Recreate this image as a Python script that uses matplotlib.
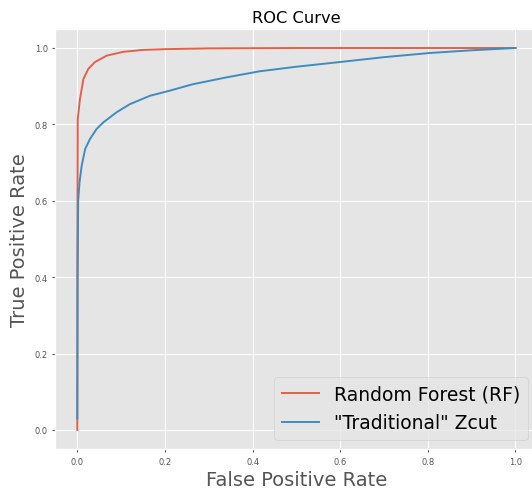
import matplotlib
matplotlib.use("Agg")
import matplotlib.pyplot as plt

plt.style.use("ggplot")

# ROC curve points (false positive rate, true positive rate)
fpr_rf = [0.0, 0.0, 0.001, 0.006, 0.014, 0.025, 0.040, 0.067, 0.105, 0.15, 0.2, 0.3, 0.5, 1.0]
tpr_rf = [0.0, 0.40, 0.814, 0.866, 0.919, 0.945, 0.963, 0.980, 0.990, 0.995, 0.997, 0.999, 1.0, 1.0]

fpr_zcut = [0.0, 0.001, 0.002, 0.005, 0.010, 0.018, 0.029, 0.044, 0.059, 0.090, 0.120,
            0.166, 0.21, 0.263, 0.34, 0.416, 0.50, 0.605, 0.70, 0.805, 0.90, 1.0]
tpr_zcut = [0.03, 0.45, 0.60, 0.648, 0.692, 0.736, 0.762, 0.788, 0.805, 0.832, 0.853,
            0.875, 0.888, 0.905, 0.923, 0.939, 0.951, 0.964, 0.976, 0.987, 0.994, 1.0]

labels = ["Random Forest (RF)", '"Traditional" Zcut']
ticks = [0.0, 0.2, 0.4, 0.6, 0.8, 1.0]

fig = plt.figure(figsize=(5.32, 4.89), dpi=100)
W, H = 532, 489
left, right, top, bottom = 55.4, 537.4, 29.9, 450.1
ax = fig.add_axes([left / W, 1 - bottom / H, (right - left) / W, (bottom - top) / H])

ax.plot(fpr_rf, tpr_rf, color="#E5604A", lw=1.4, label=labels[0])
ax.plot(fpr_zcut, tpr_zcut, color="#3E8DBE", lw=1.4, label=labels[1])

ax.set_xlim(-0.05, 1.05)
ax.set_ylim(-0.05, 1.05)
ax.set_xticks(ticks)
ax.set_yticks(ticks)
ax.tick_params(labelsize=6, colors="#555555", length=2)

ax.set_title("ROC Curve", fontsize=11.7, color="black", pad=5)
ax.set_xlabel("False Positive Rate", fontsize=14, color="#555555", labelpad=3)
ax.set_ylabel("True Positive Rate", fontsize=14, color="#555555")

ax.legend(loc="lower right", fontsize=13.5)

fig.savefig("out.png", dpi=100)
